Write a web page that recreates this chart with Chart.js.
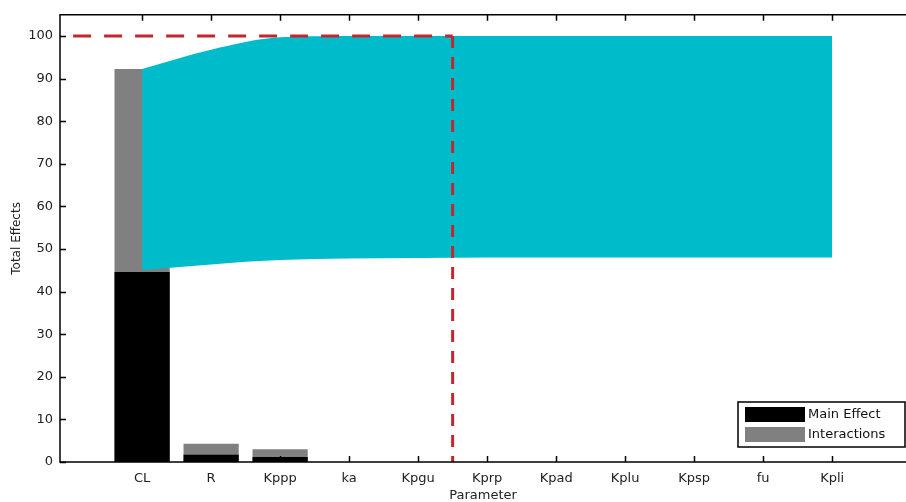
<!DOCTYPE html>
<html>
<head>
<meta charset="utf-8">
<script src="https://cdn.jsdelivr.net/npm/chart.js@4/dist/chart.umd.min.js"></script>
<style>
  html, body { margin: 0; padding: 0; background: #fff; }
  #wrap { width: 906px; height: 502px; }
</style>
</head>
<body>
<div id="wrap"><canvas id="c"></canvas></div>
<script>
// Sensitivity results - total effects per parameter
const categories = ['CL', 'R', 'Kppp', 'ka', 'Kpgu', 'Kprp', 'Kpad', 'Kplu', 'Kpsp', 'fu', 'Kpli'];
const mainEffect = [44.6, 1.7, 1.2, 0, 0, 0, 0, 0, 0, 0, 0];
const totalEffect = [92.3, 4.3, 3.0, 0, 0, 0, 0, 0, 0, 0, 0];
// cumulative curves (shaded band)
const cumTotal = [92.3, 96.8, 99.7, 100, 100, 100, 100, 100, 100, 100, 100];
const cumMain = [45.0, 46.4, 47.4, 47.8, 47.9, 48.0, 48.0, 48.0, 48.0, 48.0, 48.0];
const yTicks = [0, 10, 20, 30, 40, 50, 60, 70, 80, 90, 100];
// red cut-off marker
const cutoffX = 4.5;
const cutoffLevel = 100;
const cutoffFrom = -1;

const FONT = "'DejaVu Sans', 'Liberation Sans', sans-serif";

function pts(arr) {
  return arr.map(function (v, i) { return { x: i, y: v }; });
}

const framePlugin = {
  id: 'frame',
  afterDatasetsDraw(chart) {
    const ctx = chart.ctx;
    const a = chart.chartArea;
    const x = chart.scales.x;
    const y = chart.scales.y;
    ctx.save();
    ctx.strokeStyle = '#000';
    ctx.lineWidth = 1.5;
    ctx.beginPath();
    ctx.moveTo(a.right, a.top);
    ctx.lineTo(a.left, a.top);
    ctx.lineTo(a.left, a.bottom);
    ctx.lineTo(a.right, a.bottom);
    ctx.stroke();
    ctx.beginPath();
    x.ticks.forEach(function (t) {
      const px = Math.round(x.getPixelForValue(t.value)) + 0.5;
      ctx.moveTo(px, a.bottom); ctx.lineTo(px, a.bottom - 6);
      ctx.moveTo(px, a.top); ctx.lineTo(px, a.top + 6);
    });
    y.ticks.forEach(function (t) {
      const py = Math.round(y.getPixelForValue(t.value)) + 0.5;
      ctx.moveTo(a.left, py); ctx.lineTo(a.left + 6, py);
    });
    ctx.stroke();
    ctx.restore();
  },
  afterDraw(chart) {
    // legend box, bottom right
    const ctx = chart.ctx;
    const a = chart.chartArea;
    const items = chart.data.datasets.filter(function (d) { return d.type === 'bar'; })
      .sort(function (p, q) { return p.legendRank - q.legendRank; });
    const w = 167, h = 45;
    const left = a.right - w - 1;
    const top = a.bottom - 60;
    ctx.save();
    ctx.fillStyle = '#fff';
    ctx.fillRect(left, top, w, h);
    ctx.strokeStyle = '#000';
    ctx.lineWidth = 1.5;
    ctx.strokeRect(left, top, w, h);
    ctx.font = '13px ' + FONT;
    ctx.textBaseline = 'middle';
    items.forEach(function (d, i) {
      const sy = top + 5 + i * 20;
      ctx.fillStyle = d.backgroundColor;
      ctx.fillRect(left + 7, sy, 60, 15);
      ctx.fillStyle = '#111';
      ctx.fillText(d.label, left + 70, sy + 8);
    });
    ctx.restore();
  }
};

new Chart(document.getElementById('c'), {
  type: 'bar',
  data: {
    datasets: [
      {
        type: 'bar', label: 'Interactions', legendRank: 1,
        data: pts(totalEffect), backgroundColor: '#808080',
        barPercentage: 0.8, categoryPercentage: 1.0, grouped: false, order: 5
      },
      {
        type: 'bar', label: 'Main Effect', legendRank: 0,
        data: pts(mainEffect), backgroundColor: '#000000',
        barPercentage: 0.8, categoryPercentage: 1.0, grouped: false, order: 4
      },
      {
        type: 'line', label: 'cumTotal', data: pts(cumTotal),
        borderWidth: 0, pointRadius: 0, cubicInterpolationMode: 'monotone',
        fill: '+1', backgroundColor: '#00bccb', order: 3
      },
      {
        type: 'line', label: 'cumMain', data: pts(cumMain),
        borderWidth: 0, pointRadius: 0, cubicInterpolationMode: 'monotone',
        fill: false, order: 3
      },
      {
        type: 'line', label: 'cutoffH',
        data: [{ x: cutoffFrom, y: cutoffLevel }, { x: cutoffX, y: cutoffLevel }],
        borderColor: '#c1272d', borderWidth: 3, borderDash: [18, 13],
        pointRadius: 0, fill: false, order: 1
      },
      {
        type: 'line', label: 'cutoffV',
        data: [{ x: cutoffX, y: cutoffLevel }, { x: cutoffX, y: 0 }],
        borderColor: '#c1272d', borderWidth: 3, borderDash: [12, 9],
        pointRadius: 0, fill: false, order: 1
      }
    ]
  },
  options: {
    responsive: true,
    maintainAspectRatio: false,
    animation: false,
    layout: { padding: { top: 12, right: 0, left: 0, bottom: 0 } },
    plugins: {
      legend: { display: false },
      tooltip: { enabled: false }
    },
    scales: {
      x: {
        type: 'linear',
        min: -1.19,
        max: 11.07,
        offset: false,
        grid: { display: false, drawTicks: false },
        border: { display: false },
        afterBuildTicks: function (s) {
          s.ticks = categories.map(function (c, i) { return { value: i }; });
        },
        afterFit: function (s) { s.height = 40; },
        ticks: {
          autoSkip: false,
          maxRotation: 0,
          padding: 9,
          color: '#222',
          font: { family: FONT, size: 13 },
          callback: function (v) { return categories[v] !== undefined ? categories[v] : ''; }
        },
        title: {
          display: true, text: 'Parameter', color: '#222',
          font: { family: FONT, size: 13 }, padding: { top: 0, bottom: -1 }
        }
      },
      y: {
        min: 0,
        max: 105,
        grid: { display: false, drawTicks: false },
        border: { display: false },
        afterBuildTicks: function (s) {
          s.ticks = yTicks.map(function (v) { return { value: v }; });
        },
        afterFit: function (s) { s.width = 60; },
        ticks: {
          padding: 7,
          color: '#222',
          font: { family: FONT, size: 13 }
        },
        title: {
          display: true, text: 'Total Effects', color: '#222',
          font: { family: FONT, size: 12 }, padding: { top: 10, bottom: 0 }
        }
      }
    }
  },
  plugins: [framePlugin]
});
</script>
</body>
</html>
